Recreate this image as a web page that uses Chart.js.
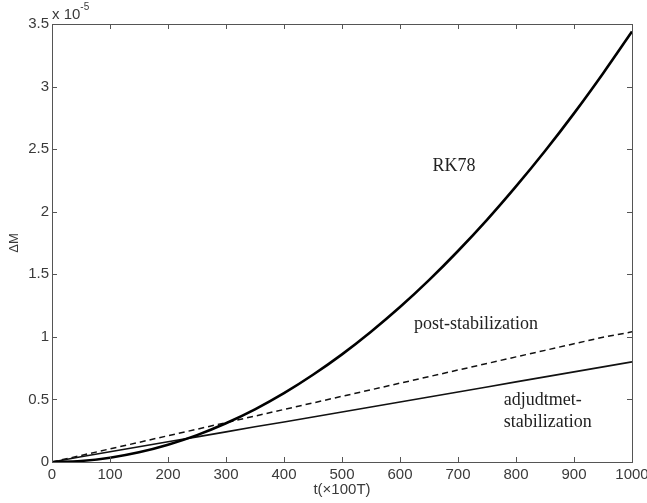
<!DOCTYPE html>
<html>
<head>
<meta charset="utf-8">
<script src="https://cdn.jsdelivr.net/npm/chart.js@4.4.0/dist/chart.umd.min.js"></script>
<style>
  html, body { margin: 0; padding: 0; background: #fff; }
  #wrap { width: 647px; height: 503px; }
</style>
</head>
<body>
<div id="wrap"><canvas id="chart"></canvas></div>
<script>
// time axis, in units of 100T
const tValues = [0, 50, 100, 150, 200, 250, 300, 350, 400, 450, 500, 550, 600, 650, 700, 750, 800, 850, 900, 950, 1000];
// Delta M, in units of 1e-5
const rk78 = [0, 0.0086, 0.0344, 0.0774, 0.138, 0.215, 0.310, 0.421, 0.550, 0.697, 0.860, 1.041, 1.238, 1.453, 1.686, 1.935, 2.202, 2.485, 2.786, 3.105, 3.44];
const postStab = [0, 0.052, 0.105, 0.157, 0.21, 0.262, 0.315, 0.367, 0.42, 0.472, 0.525, 0.577, 0.63, 0.682, 0.735, 0.787, 0.84, 0.892, 0.945, 0.997, 1.04];
const adjStab = [0, 0.042, 0.082, 0.122, 0.162, 0.201, 0.241, 0.281, 0.32, 0.36, 0.40, 0.44, 0.48, 0.52, 0.56, 0.60, 0.64, 0.68, 0.72, 0.76, 0.80];

const xTicks = [0, 100, 200, 300, 400, 500, 600, 700, 800, 900, 1000];
const yTicks = [0, 0.5, 1, 1.5, 2, 2.5, 3, 3.5];

// text labels placed in data coordinates
const notes = [
  { text: 'RK78', t: 693, v: 2.36, align: 'center' },
  { text: 'post-stabilization', t: 731, v: 1.10, align: 'center' },
  { text: 'adjudtmet-', t: 779, v: 0.49, align: 'left' },
  { text: 'stabilization', t: 779, v: 0.32, align: 'left' },
];

function toPoints(ys) {
  return tValues.map((t, i) => ({ x: t, y: ys[i] }));
}

const axisColor = '#555';
const labelColor = '#3a3a3a';
const sansFont = "'Liberation Sans', Arial, sans-serif";

// box, inner ticks, exponent and notes
const framePlugin = {
  id: 'frame',
  afterDraw(chart) {
    const ctx = chart.ctx;
    const a = chart.chartArea;
    const xs = chart.scales.x;
    const ys = chart.scales.y;
    ctx.save();
    ctx.strokeStyle = axisColor;
    ctx.lineWidth = 1;
    ctx.strokeRect(Math.round(a.left) + 0.5, Math.round(a.top) + 0.5,
      Math.round(a.right - a.left), Math.round(a.bottom - a.top));
    const len = 5;
    ctx.beginPath();
    xTicks.forEach((t) => {
      const px = Math.round(xs.getPixelForValue(t)) + 0.5;
      ctx.moveTo(px, a.bottom); ctx.lineTo(px, a.bottom - len);
      ctx.moveTo(px, a.top); ctx.lineTo(px, a.top + len);
    });
    yTicks.forEach((v) => {
      const py = Math.round(ys.getPixelForValue(v)) + 0.5;
      ctx.moveTo(a.left, py); ctx.lineTo(a.left + len, py);
      ctx.moveTo(a.right, py); ctx.lineTo(a.right - len, py);
    });
    ctx.stroke();

    // x 10^-5 exponent
    ctx.fillStyle = labelColor;
    ctx.textBaseline = 'middle';
    ctx.textAlign = 'left';
    ctx.font = '15px ' + sansFont;
    ctx.fillText('x 10', a.left, 15);
    const w = ctx.measureText('x 10').width;
    ctx.font = '10px ' + sansFont;
    ctx.fillText('-5', a.left + w, 7);

    // notes
    ctx.fillStyle = '#222';
    ctx.font = "18px 'Liberation Serif', 'Times New Roman', serif";
    notes.forEach((n) => {
      ctx.textAlign = n.align;
      ctx.fillText(n.text, xs.getPixelForValue(n.t), ys.getPixelForValue(n.v));
    });
    ctx.restore();
  },
};

new Chart(document.getElementById('chart'), {
  type: 'scatter',
  data: {
    datasets: [
      {
        label: 'RK78',
        data: toPoints(rk78),
        showLine: true,
        borderColor: '#000',
        borderWidth: 2.6,
        pointRadius: 0,
        cubicInterpolationMode: 'monotone',
      },
      {
        label: 'post-stabilization',
        data: toPoints(postStab),
        showLine: true,
        borderColor: '#111',
        borderWidth: 1.5,
        borderDash: [6, 4],
        pointRadius: 0,
      },
      {
        label: 'adjudtmet-stabilization',
        data: toPoints(adjStab),
        showLine: true,
        borderColor: '#111',
        borderWidth: 1.6,
        pointRadius: 0,
      },
    ],
  },
  options: {
    responsive: true,
    maintainAspectRatio: false,
    animation: false,
    layout: { autoPadding: false, padding: { top: 24, right: 15, left: 0, bottom: 0 } },
    plugins: { legend: { display: false }, tooltip: { enabled: false } },
    scales: {
      x: {
        type: 'linear',
        min: 0,
        max: 1000,
        afterFit(scale) {
          scale.height = 41;
          scale.paddingLeft = 0;
          scale.paddingRight = 0;
        },
        afterBuildTicks(scale) { scale.ticks = xTicks.map((v) => ({ value: v })); },
        grid: { display: false, drawTicks: false },
        border: { display: false },
        ticks: {
          color: labelColor,
          font: { family: sansFont, size: 15 },
          padding: 4,
          maxRotation: 0,
          autoSkip: false,
          callback: (v) => String(v),
        },
        title: { display: true, text: 't(×100T)', color: labelColor, font: { family: sansFont, size: 15 }, padding: { top: 0, bottom: 4 } },
      },
      y: {
        type: 'linear',
        min: 0,
        max: 3.5,
        afterFit(scale) {
          scale.width = 52;
          scale.paddingTop = 0;
          scale.paddingBottom = 0;
        },
        afterBuildTicks(scale) { scale.ticks = yTicks.map((v) => ({ value: v })); },
        grid: { display: false, drawTicks: false },
        border: { display: false },
        ticks: {
          color: labelColor,
          font: { family: sansFont, size: 15 },
          padding: 3,
          autoSkip: false,
          callback: (v) => String(v),
        },
        title: { display: true, text: 'ΔM', color: labelColor, font: { family: sansFont, size: 13 }, padding: { top: 7, bottom: 0 } },
      },
    },
  },
  plugins: [framePlugin],
});
</script>
</body>
</html>
